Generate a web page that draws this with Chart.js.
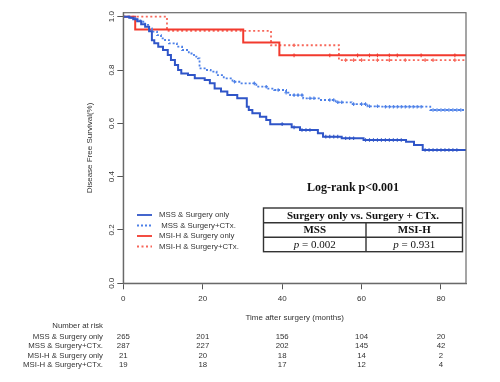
<!DOCTYPE html>
<html><head><meta charset="utf-8">
<script src="https://cdn.jsdelivr.net/npm/chart.js@4.4.1/dist/chart.umd.min.js"></script>
<style>html,body{margin:0;padding:0;background:#fff;}#wrap{width:500px;height:382px;}</style>
</head><body><div id="wrap"><canvas id="c" width="500" height="382"></canvas></div>
<script>
// ---- data ----
const xTicks = [0, 20, 40, 60, 80];
const yTicks = [0, 0.2, 0.4, 0.6, 0.8, 1.0];
const seriesNames = ['MSS & Surgery only', 'MSS & Surgery+CTx.', 'MSI-H & Surgery only', 'MSI-H & Surgery+CTx.'];

const mssOnlyT = [0,1.5,2.5,3.5,4.5,5.5,6.5,7.2,7.8,8.8,10,11.2,12,13,13.8,14.6,16.3,18,20.5,21.8,23,24.6,26.2,28.7,31.1,31.6,32.5,34.4,36,37,42.4,44.5,49,50.3,55,60.5,71.2,73.2,75.4,86.3];
const mssOnlyS = [1,0.996,0.99,0.983,0.972,0.962,0.945,0.912,0.9,0.8875,0.875,0.856,0.8375,0.819,0.8,0.787,0.781,0.769,0.7625,0.75,0.731,0.719,0.706,0.694,0.662,0.65,0.6375,0.625,0.6125,0.597,0.585,0.575,0.5625,0.55,0.544,0.5375,0.531,0.519,0.5,0.5];
const mssOnlyCens = [40,43,45,46,47,51,52,53,54,56,57,58,61,62,63,64,65,66,67,68,69,70,76,77,78,79,80,81,82,83,84];

const mssCtxT = [0,1.5,3,4.3,5.5,6.5,7.2,8.5,9.5,10.5,11.5,13.5,14.8,16.5,17.8,18.8,19.2,20.5,22,23.5,25.3,27.5,29.5,33.5,36.5,38,41,42,45.3,49.5,53.5,57.5,61.5,64.7,77.3,86.3];
const mssCtxS = [1,0.996,0.99,0.981,0.969,0.956,0.944,0.931,0.919,0.9125,0.9,0.8875,0.875,0.862,0.85,0.844,0.806,0.8,0.794,0.781,0.769,0.756,0.75,0.7375,0.73,0.725,0.715,0.706,0.694,0.6875,0.679,0.672,0.664,0.6625,0.65,0.65];
const mssCtxCens = [28,33,36,39,41,43,44,45,47,48,52,53,54,55,58,60,61,62,64,66,67,68,69,70,71,72,73,74,75,78,79,80,81,82,83,84,85];

const msiOnlyT = [0,3,30.2,39.3,86.3];
const msiOnlyS = [1,0.952,0.903,0.855,0.855];
const msiOnlyCens = [43,52,59,62,64,67,69,75,83.5];

const msiCtxT = [0,11,37.2,54.3,86.3];
const msiCtxS = [1,0.947,0.893,0.837,0.837];
const msiCtxCens = [43,56,58,60,64,67,71,76,78,83.5];

const riskTimes = [0, 20, 40, 60, 80];
const riskMssOnly = [265, 201, 156, 104, 20];
const riskMssCtx = [287, 227, 202, 145, 42];
const riskMsiOnly = [21, 20, 18, 14, 2];
const riskMsiCtx = [19, 18, 17, 12, 4];

const logRankText = 'Log-rank p<0.001';
const tableHeader = 'Surgery only vs. Surgery + CTx.';
const tableGroups = ['MSS', 'MSI-H'];
const tablePvals = ['0.002', '0.931'];

// ---- helpers ----
function pts(t, s) { return t.map((v, i) => ({x: v, y: s[i]})); }
function censPts(c, t, s) {
  return c.map(ct => { let y = s[0]; for (let i = 0; i < t.length; i++) { if (t[i] <= ct) y = s[i]; } return {x: ct, y: y}; });
}
const colors = ['#2f55c8', '#4d80e8', '#f23a2e', '#f7675a'];
const dashes = [[], [2, 2], [], [2, 2.5]];
const curves = [[mssOnlyT, mssOnlyS, mssOnlyCens], [mssCtxT, mssCtxS, mssCtxCens], [msiOnlyT, msiOnlyS, msiOnlyCens], [msiCtxT, msiCtxS, msiCtxCens]];

const datasets = [];
curves.forEach((c, i) => {
  datasets.push({label: seriesNames[i], data: pts(c[0], c[1]), stepped: 'before', borderColor: colors[i], borderWidth: i % 2 ? 1.8 : 2, borderDash: dashes[i], pointRadius: 0, fill: false, order: 2});
  datasets.push({label: seriesNames[i] + ' censored', data: censPts(c[2], c[0], c[1]), showLine: false, pointStyle: 'cross', pointRadius: 1.8, borderColor: colors[i], borderWidth: 1.1, order: 1});
});

const SANS = '"Liberation Sans", Arial, sans-serif';
const SERIF = '"Liberation Serif", "Times New Roman", serif';
const TXT = '#333';

const drawPlugin = {
  id: 'rstyle',
  afterDraw(chart) {
    const ctx = chart.ctx, a = chart.chartArea, xs = chart.scales.x, ys = chart.scales.y;
    ctx.save();
    // box
    ctx.strokeStyle = '#6a6a6a'; ctx.lineWidth = 1.2;
    ctx.strokeRect(a.left, a.top, a.right - a.left, a.bottom - a.top);
    // y tick labels (rotated)
    ctx.fillStyle = TXT; ctx.font = '8px ' + SANS; ctx.textAlign = 'center'; ctx.textBaseline = 'middle';
    yTicks.forEach(v => { const y = ys.getPixelForValue(v); ctx.save(); ctx.translate(a.left - 12, y); ctx.rotate(-Math.PI / 2); ctx.fillText(v.toFixed(1), 0, 0); ctx.restore(); });
    // x tick labels
    xTicks.forEach(v => { ctx.fillText(String(v), xs.getPixelForValue(v), a.bottom + 15); });
    // axis titles
    ctx.fillText('Time after surgery (months)', (a.left + a.right) / 2, a.bottom + 34);
    ctx.save(); ctx.translate(a.left - 34, (a.top + a.bottom) / 2); ctx.rotate(-Math.PI / 2); ctx.fillText('Disease Free Survival(%)', 0, 0); ctx.restore();
    // legend
    const lgY = [215, 225.5, 236, 246.5];
    seriesNames.forEach((n, i) => {
      ctx.save(); ctx.strokeStyle = colors[i]; ctx.lineWidth = 1.8; ctx.setLineDash(dashes[i]);
      ctx.beginPath(); ctx.moveTo(137, lgY[i]); ctx.lineTo(152, lgY[i]); ctx.stroke(); ctx.restore();
      ctx.textAlign = 'left'; ctx.fillStyle = TXT; ctx.font = '7.8px ' + SANS;
      ctx.fillText((i === 1 ? ' ' : '') + n, 159, lgY[i]);
    });
    // log-rank
    ctx.fillStyle = '#111'; ctx.textAlign = 'center';
    ctx.font = 'bold 12px ' + SERIF; ctx.fillText(logRankText, 353, 187.5);
    // table
    const tL = 263.5, tR = 462.5, tT = 208, r1 = 222.7, r2 = 237.3, tB = 251.7, cM = 366;
    ctx.strokeStyle = '#333'; ctx.lineWidth = 1.4;
    ctx.strokeRect(tL, tT, tR - tL, tB - tT);
    ctx.beginPath(); ctx.moveTo(tL, r1); ctx.lineTo(tR, r1); ctx.moveTo(tL, r2); ctx.lineTo(tR, r2); ctx.moveTo(cM, r1); ctx.lineTo(cM, tB); ctx.stroke();
    ctx.font = 'bold 11px ' + SERIF; ctx.fillText(tableHeader, (tL + tR) / 2, (tT + r1) / 2 + 0.5);
    ctx.fillText(tableGroups[0], (tL + cM) / 2, (r1 + r2) / 2 + 0.5);
    ctx.fillText(tableGroups[1], (cM + tR) / 2, (r1 + r2) / 2 + 0.5);
    [(tL + cM) / 2, (cM + tR) / 2].forEach((cx, i) => {
      ctx.font = 'italic 11px ' + SERIF; const w1 = ctx.measureText('p').width;
      ctx.font = '11px ' + SERIF; const rest = ' = ' + tablePvals[i]; const w2 = ctx.measureText(rest).width;
      const x0 = cx - (w1 + w2) / 2; ctx.textAlign = 'left';
      ctx.font = 'italic 11px ' + SERIF; ctx.fillText('p', x0, (r2 + tB) / 2 + 0.5);
      ctx.font = '11px ' + SERIF; ctx.fillText(rest, x0 + w1, (r2 + tB) / 2 + 0.5);
      ctx.textAlign = 'center';
    });
    // number at risk
    ctx.fillStyle = TXT; ctx.font = '7.8px ' + SANS; ctx.textAlign = 'right';
    ctx.fillText('Number at risk', 103, 326);
    const rows = [riskMssOnly, riskMssCtx, riskMsiOnly, riskMsiCtx];
    const rY = [337, 346.2, 355.4, 364.6];
    rows.forEach((r, i) => {
      ctx.textAlign = 'right'; ctx.fillText(seriesNames[i], 103, rY[i]);
      ctx.textAlign = 'center';
      r.forEach((v, j) => ctx.fillText(String(v), xs.getPixelForValue(riskTimes[j]), rY[i]));
    });
    ctx.restore();
  }
};

new Chart(document.getElementById('c'), {
  type: 'line',
  data: {datasets: datasets},
  options: {
    responsive: false, animation: false, devicePixelRatio: 1,
    layout: {padding: {left: 83.3, right: 34, top: 12.7, bottom: 58.7}},
    plugins: {legend: {display: false}, tooltip: {enabled: false}},
    scales: {
      x: {type: 'linear', min: 0, max: 86.3,
        afterFit(s) { s.height = 40; },
        ticks: {stepSize: 20, includeBounds: false, display: false},
        grid: {drawOnChartArea: false, drawTicks: true, tickLength: 6, color: '#555', lineWidth: 1},
        border: {display: true, color: '#6a6a6a', width: 1.2}},
      y: {type: 'linear', min: 0, max: 1.015,
        afterFit(s) { s.width = 40; },
        ticks: {stepSize: 0.2, includeBounds: false, display: false},
        grid: {drawOnChartArea: false, drawTicks: true, tickLength: 6, color: '#555', lineWidth: 1},
        border: {display: true, color: '#6a6a6a', width: 1.2}}
    }
  },
  plugins: [drawPlugin]
});
</script></body></html>
